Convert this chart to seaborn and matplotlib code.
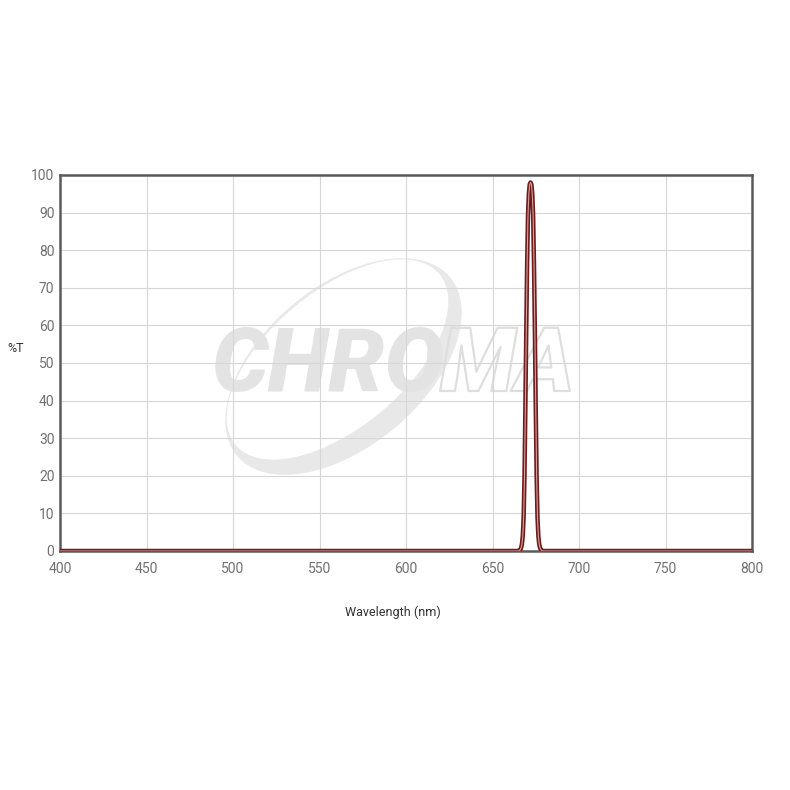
import matplotlib
matplotlib.use("Agg")
import matplotlib.pyplot as plt
import matplotlib.patheffects as pe
from matplotlib.patches import Ellipse
import seaborn as sns
import pandas as pd

wavelength = [400, 500, 600, 660, 665, 666, 666.5, 667, 667.5, 668, 668.5, 669, 669.5, 670, 670.5,
              671, 671.5, 672, 672.5, 673, 673.5, 674, 674.5, 675, 675.5, 676, 676.5, 677, 677.5,
              678, 679, 680, 700, 750, 800]
transmission = [0, 0, 0, 0, 0, 0.3, 0.8, 1.8, 4, 9, 20, 38, 58, 76, 89,
                95, 97.5, 98, 97.5, 95, 89, 76, 58, 38, 20, 9, 4, 1.8, 0.8,
                0.3, 0, 0, 0, 0, 0]
x_ticks = [400, 450, 500, 550, 600, 650, 700, 750, 800]
y_ticks = [0, 10, 20, 30, 40, 50, 60, 70, 80, 90, 100]

df = pd.DataFrame({"Wavelength": wavelength, "T": transmission})

sns.set_theme(style="white")
plt.rcParams["font.family"] = ["Roboto", "DejaVu Sans"]

W = 790.0
fig = plt.figure(figsize=(7.9, 7.9), dpi=100)
ax = fig.add_axes([60/W, 1-551/W, 692/W, 376/W])

def fx(px):
    return px / W

def fy(py):
    return 1 - py / W

# watermark (figure coords; figure is square so angles are preserved)
outer = Ellipse((fx(343.5), fy(366.5)), width=2*139/W, height=2*80/W, angle=40,
                facecolor="#e8e8e8", edgecolor="none", transform=fig.transFigure, zorder=0.1)
inner = Ellipse((fx(343.5 - 6), fy(366.5 - 7)), width=2*133/W, height=2*68/W, angle=40,
                facecolor="white", edgecolor="none", transform=fig.transFigure, zorder=0.15)
ax.add_patch(outer)
ax.add_patch(inner)
ax.text(fx(211), fy(367), "CHRO", fontsize=64, fontweight="heavy", style="italic",
        color="#e3e3e3", ha="left", va="center", zorder=0.2, transform=fig.transFigure,
        family=["Roboto", "DejaVu Sans"])
ax.text(fx(440), fy(367), "MA", fontsize=64, fontweight="heavy", style="italic",
        color=(1, 1, 1, 0), ha="left", va="center", zorder=0.2, transform=fig.transFigure,
        family=["Roboto", "DejaVu Sans"],
        path_effects=[pe.Stroke(linewidth=1.6, foreground="#dedede")])

sns.lineplot(data=df, x="Wavelength", y="T", ax=ax, color="#6e1b1b", lw=3.2, zorder=3)
sns.lineplot(data=df, x="Wavelength", y="T", ax=ax, color="#d9a0a0", lw=0.8, zorder=4)

ax.set_xlim(400, 800)
ax.set_ylim(0, 100)
ax.set_xticks(x_ticks)
ax.set_yticks(y_ticks)
ax.grid(True, color="#d6d6d6", lw=0.8)
ax.set_axisbelow(True)
for s in ax.spines.values():
    s.set_color("#5a5a5a")
    s.set_linewidth(1.8)
ax.tick_params(axis="both", colors="#707070", labelsize=10, length=0)
ax.tick_params(axis="x", pad=8)
ax.tick_params(axis="y", pad=4)
ax.set_xlabel("Wavelength (nm)", fontsize=9, color="#333333", va="center")
ax.set_ylabel("%T", fontsize=9, color="#333333", rotation=0, va="center", ha="center")
ax.xaxis.set_label_coords((393 - 60) / 692, (551 - 612) / 376)
ax.yaxis.set_label_coords((16 - 60) / 692, (551 - 348) / 376)

fig.savefig("out.png", dpi=100, facecolor="white")
